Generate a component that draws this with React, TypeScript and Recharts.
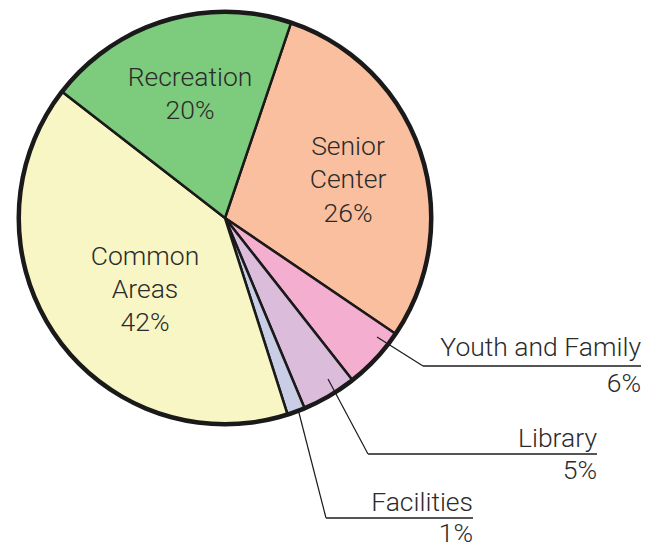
import React from 'react';
import { PieChart, Pie, Cell } from 'recharts';

const categories = ['Senior Center', 'Youth and Family', 'Library', 'Facilities', 'Common Areas', 'Recreation'];
// slice sizes as drawn in the picture
const shares = [29.3, 4.9, 4.3, 1.4, 40.4, 19.7];
// printed percentage labels
const percentLabels = ['26%', '6%', '5%', '1%', '42%', '20%'];
const colors = ['#f9bf9f', '#f4aed0', '#dcbcdb', '#c9cde6', '#f8f6c4', '#7dcb7d'];

const data = categories.map((name, i) => ({ name, value: shares[i], pct: percentLabels[i] }));
const ringData = [{ name: 'ring', value: 1 }];

const FONT = 'Roboto, "Open Sans", sans-serif';
const TEXT = '#2b2b2b';
const FS = 26.5;

type Inside = { kind: 'in'; x: number; ys: number[]; lines: string[] };
type Outside = { kind: 'out'; start: [number, number]; elbow: [number, number]; end: number; y1: number; y2: number };

const layout: (Inside | Outside)[] = [
  { kind: 'in', x: 123, ys: [-63, -30, 4], lines: ['Senior', 'Center'] },
  { kind: 'out', start: [152, 119], elbow: [198, 148], end: 416, y1: 138, y2: 174 },
  { kind: 'out', start: [103, 161], elbow: [143, 236], end: 372, y1: 229, y2: 261 },
  { kind: 'out', start: [73, 191], elbow: [101, 300], end: 248, y1: 293, y2: 324 },
  { kind: 'in', x: -80, ys: [47, 79.5, 113], lines: ['Common', 'Areas'] },
  { kind: 'in', x: -35, ys: [-132, -99], lines: ['Recreation'] },
];

const renderLabel = (props: any) => {
  const { cx, cy, index } = props;
  const l = layout[index];
  const d = data[index];
  if (l.kind === 'in') {
    const texts = [...l.lines, d.pct];
    return (
      <g key={`lbl-${index}`}>
        {texts.map((t, i) => (
          <text key={i} x={cx + l.x} y={cy + l.ys[i]} textAnchor="middle" fontFamily={FONT} fontWeight={300} fontSize={FS} fill={TEXT}>
            {t}
          </text>
        ))}
      </g>
    );
  }
  const sx = cx + l.start[0];
  const sy = cy + l.start[1];
  const ex = cx + l.elbow[0];
  const ey = cy + l.elbow[1];
  const rx = cx + l.end;
  return (
    <g key={`lbl-${index}`}>
      <line x1={sx} y1={sy} x2={ex} y2={ey} stroke="#1a1a1a" strokeWidth={1.2} />
      <line x1={ex} y1={ey} x2={rx} y2={ey} stroke="#555" strokeWidth={1.8} />
      <text x={rx} y={cy + l.y1} textAnchor="end" fontFamily={FONT} fontWeight={300} fontSize={FS} fill={TEXT}>
        {d.name}
      </text>
      <text x={rx} y={cy + l.y2} textAnchor="end" fontFamily={FONT} fontWeight={300} fontSize={FS} fill={TEXT}>
        {d.pct}
      </text>
    </g>
  );
};

export default function App() {
  return (
    <div style={{ position: 'absolute', left: 0, top: 0, background: '#fff' }}>
      <PieChart width={662} height={547} margin={{ top: 0, right: 0, bottom: 0, left: 0 }}>
        <Pie
          data={data}
          dataKey="value"
          nameKey="name"
          cx={225}
          cy={218}
          outerRadius={206}
          startAngle={71.3}
          endAngle={-288.7}
          stroke="#1a1a1a"
          strokeWidth={2.5}
          label={renderLabel}
          labelLine={false}
          isAnimationActive={false}
        >
          {data.map((d, i) => (
            <Cell key={d.name} fill={colors[i]} />
          ))}
        </Pie>
        <Pie
          data={ringData}
          dataKey="value"
          cx={225}
          cy={218}
          innerRadius={204}
          outerRadius={208.5}
          startAngle={90}
          endAngle={-270}
          fill="#1a1a1a"
          stroke="none"
          isAnimationActive={false}
        />
      </PieChart>
    </div>
  );
}
